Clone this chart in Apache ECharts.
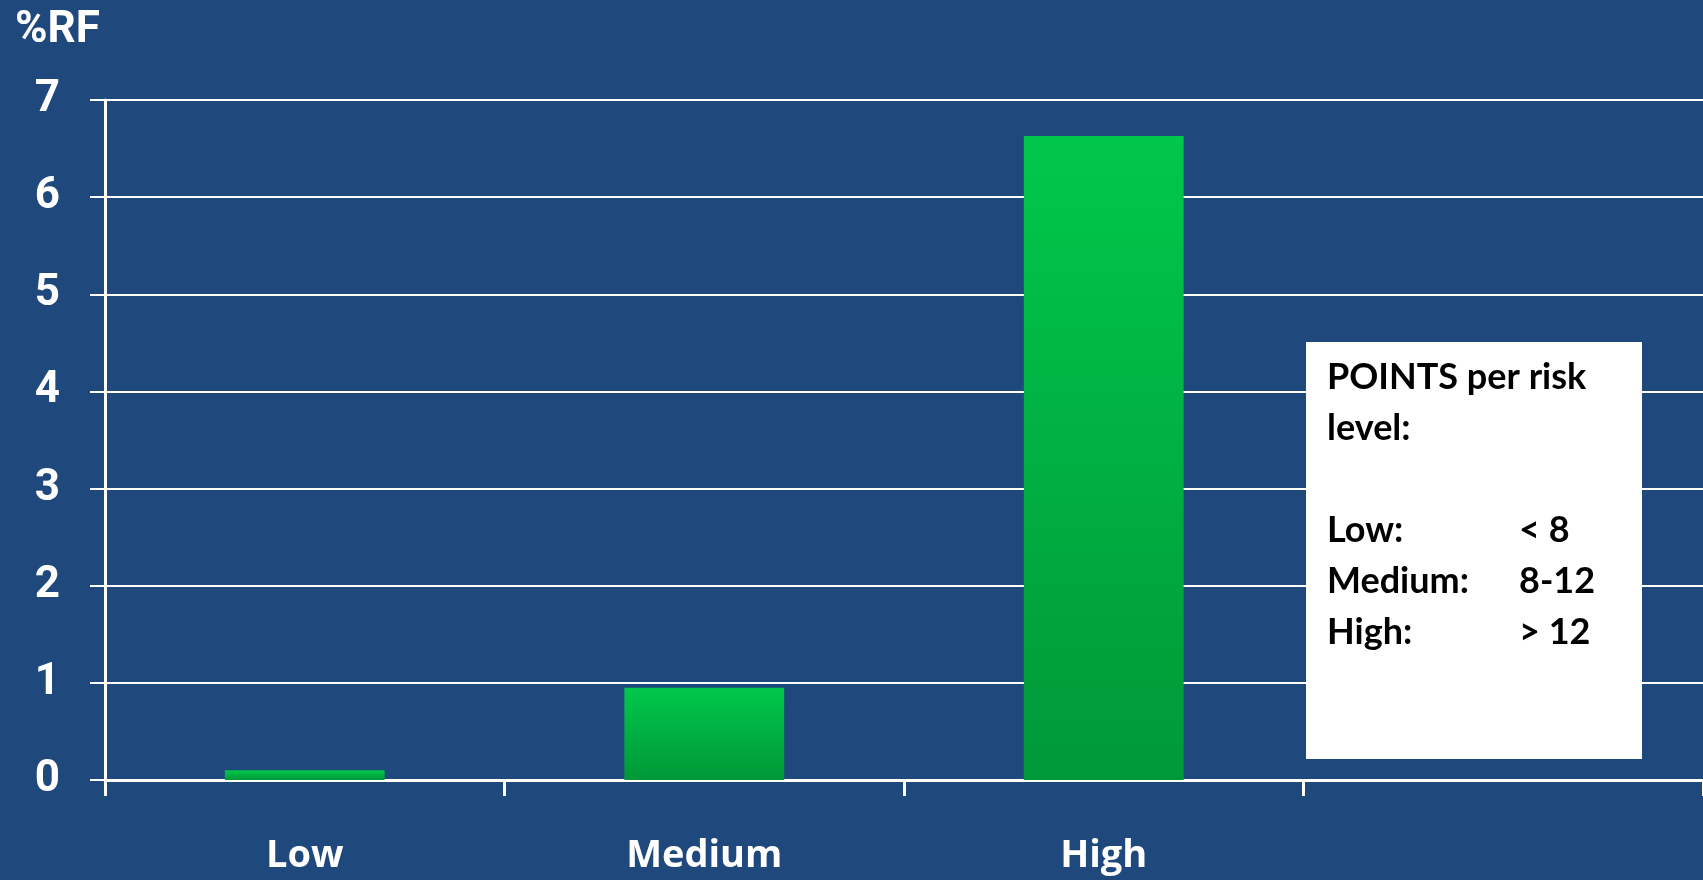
<!DOCTYPE html>
<html>
<head>
<meta charset="utf-8">
<script src="https://cdn.jsdelivr.net/npm/echarts@6/dist/echarts.min.js"></script>
<style>
  html, body { margin: 0; padding: 0; background: #1F497D; }
  #chart { width: 1703px; height: 880px; }
</style>
</head>
<body>
<div id="chart"></div>
<script>
// risk categories (4th slot is empty, holds the note box)
var categories = ['Low', 'Medium', 'High', ''];
// %RF per risk level
var rfValues = [0.1, 0.95, 6.63, null];
var yTicks = { min: 0, max: 7, interval: 1 };
// note box lines: [label, points]
var noteTitle = ['POINTS per risk', 'level:'];
var noteRows = [['Low:', '< 8'], ['Medium:', '8-12'], ['High:', '> 12']];

var labelFont = 'Roboto, "Open Sans", sans-serif';
var catFont = '"Open Sans", Roboto, sans-serif';
var noteFont = 'Lato, "Noto Sans", sans-serif';

var chart = echarts.init(document.getElementById('chart'), null, { renderer: 'canvas' });

var noteTexts = [];
noteTitle.forEach(function (t, i) {
    noteTexts.push({
        type: 'text', left: 1327, top: 359 + i * 51,
        style: { text: t, font: 'bold 36px ' + noteFont, fill: '#000' }
    });
});
noteRows.forEach(function (r, i) {
    noteTexts.push({
        type: 'text', left: 1327, top: 512 + i * 51,
        style: { text: r[0], font: 'bold 36px ' + noteFont, fill: '#000' }
    });
    noteTexts.push({
        type: 'text', left: 1519, top: 512 + i * 51,
        style: { text: r[1], font: 'bold 36px ' + noteFont, fill: '#000' }
    });
});

chart.setOption({
    backgroundColor: '#1F497D',
    animation: false,
    title: {
        text: '%RF', left: 10, top: 4,
        textStyle: { color: '#fff', fontSize: 44, fontWeight: 'bold', fontFamily: labelFont }
    },
    grid: { left: 105, right: -3, top: 100, bottom: 100, containLabel: false },
    xAxis: {
        type: 'category',
        data: categories,
        boundaryGap: true,
        axisLine: { lineStyle: { color: '#fff', width: 3 } },
        axisTick: { show: true, length: 16, lineStyle: { color: '#fff', width: 3 } },
        axisLabel: {
            color: '#fff', fontSize: 38, fontWeight: 'bold', fontFamily: catFont, margin: 57
        }
    },
    yAxis: {
        type: 'value',
        min: yTicks.min, max: yTicks.max, interval: yTicks.interval,
        axisLine: { show: true, lineStyle: { color: '#fff', width: 3 } },
        axisTick: { show: true, length: 15, lineStyle: { color: '#fff', width: 2 } },
        splitLine: { show: true, lineStyle: { color: '#fff', width: 2 } },
        axisLabel: {
            color: '#fff', fontSize: 44, fontWeight: 'bold', fontFamily: labelFont, margin: 45
        }
    },
    series: [{
        type: 'bar',
        data: rfValues,
        barWidth: '40%',
        itemStyle: {
            color: new echarts.graphic.LinearGradient(0, 0, 0, 1, [
                { offset: 0, color: '#00C84B' },
                { offset: 1, color: '#009838' }
            ])
        }
    }],
    graphic: [{
        type: 'rect', left: 1306, top: 342, z: 100,
        shape: { width: 336, height: 417 },
        style: { fill: '#fff' }
    }].concat(noteTexts.map(function (t) { t.z = 101; return t; }))
});
</script>
</body>
</html>
